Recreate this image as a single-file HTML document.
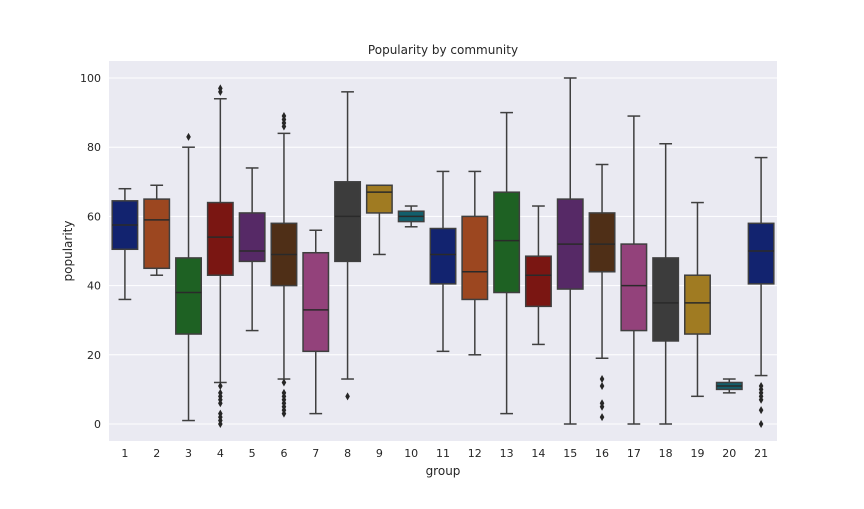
<!DOCTYPE html>
<html><head><meta charset="utf-8"><style>
body{margin:0;background:#fff;font-family:"Liberation Sans","DejaVu Sans",sans-serif}
svg text{font-family:"DejaVu Sans","Liberation Sans",sans-serif;fill:#262626}
</style></head><body>
<svg id="chart" width="864" height="504" viewBox="0 0 864 504" xmlns="http://www.w3.org/2000/svg">
<rect x="109" y="61" width="668" height="380" fill="#eaeaf2"/>
<g id="grid"></g><g id="boxes"></g><g id="axes"></g>
<text x="443" y="54" text-anchor="middle" font-size="12">Popularity by community</text>
<text x="443" y="475" text-anchor="middle" font-size="12">group</text>
<text x="72" y="251" text-anchor="middle" font-size="12" transform="rotate(-90 72 251)">popularity</text>
</svg>
<script>
const groups=["1","2","3","4","5","6","7","8","9","10","11","12","13","14","15","16","17","18","19","20","21"];
const whiskerLow=[36,43,1,12,27,13,3,13,49,57,21,20,3,23,0,19,0,0,8,9,14];
const q1=[50.5,45,26,43,47,40,21,47,61,58.5,40.5,36,38,34,39,44,27,24,26,10,40.5];
const median=[57.5,59,38,54,50,49,33,60,67,60,49,44,53,43,52,52,40,35,35,11,50];
const q3=[64.5,65,48,64,61,58,49.5,70,69,61.5,56.5,60,67,48.5,65,61,52,48,43,12,58];
const whiskerHigh=[68,69,80,94,74,84,56,96,69,63,73,73,90,63,100,75,89,81,64,13,77];
const outliers=[[],[],[83],[0,1,2,3,6,7,8,9,11,96,97],[],[3,4,5,6,7,8,9,12,86,87,88,89],[],[8],[],[],[],[],[],[],[],[2,5,6,11,13],[],[],[],[],[0,4,7,8,9,10,11]];
const colors=["#12236f","#9c4720","#1e6123","#7a1612","#562966","#4f2f17","#93427b","#3c3c3c","#a07b22","#125e6b"];
const yTicks=[0,20,40,60,80,100];
const NS="http://www.w3.org/2000/svg";
const X0=109,W=668,step=W/groups.length;
const y=v=>424-v*3.46;
const xc=i=>X0+step*(i+0.5);
function mk(tag,attrs,parent){const e=document.createElementNS(NS,tag);for(const k in attrs)e.setAttribute(k,attrs[k]);parent.appendChild(e);return e;}
const grid=document.getElementById('grid'),boxes=document.getElementById('boxes'),axes=document.getElementById('axes');
yTicks.forEach(t=>{
 const l=mk('line',{x1:X0,x2:X0+W,y1:y(t),y2:y(t),stroke:'#fff','stroke-width':1},grid);
 
 
 const tx=mk('text',{x:101,y:y(t)+4,'text-anchor':'end','font-size':11},axes);
 tx.textContent=t;
 
 
});
const LC='#3f3f3f',bw=step*0.8;
groups.forEach((g,i)=>{
 const c=xc(i);
 const grp=mk('g',{},boxes);
 
 
 mk('line',{x1:c,x2:c,y1:y(whiskerLow[i]),y2:y(q1[i]),stroke:LC,'stroke-width':1.5},grp);
 mk('line',{x1:c,x2:c,y1:y(q3[i]),y2:y(whiskerHigh[i]),stroke:LC,'stroke-width':1.5},grp);
 mk('line',{x1:c-bw/4,x2:c+bw/4,y1:y(whiskerLow[i]),y2:y(whiskerLow[i]),stroke:LC,'stroke-width':1.5},grp);
 mk('line',{x1:c-bw/4,x2:c+bw/4,y1:y(whiskerHigh[i]),y2:y(whiskerHigh[i]),stroke:LC,'stroke-width':1.5},grp);
 mk('rect',{x:c-bw/2,y:y(q3[i]),width:bw,height:y(q1[i])-y(q3[i]),fill:colors[i%10],stroke:LC,'stroke-width':1.5},grp);
 mk('line',{x1:c-bw/2,x2:c+bw/2,y1:y(median[i]),y2:y(median[i]),stroke:'#2a2a2a','stroke-width':1.5},grp);
 outliers[i].forEach(v=>{
  const py=y(v);
  const d=mk('path',{d:`M${c} ${py-4}L${c+2.3} ${py}L${c} ${py+4}L${c-2.3} ${py}Z`,fill:'#262626'},grp);
  
  
 });
 const tx=mk('text',{x:c,y:457,'text-anchor':'middle','font-size':11},axes);
 tx.textContent=g;
 
 
});
</script>
</body></html>
